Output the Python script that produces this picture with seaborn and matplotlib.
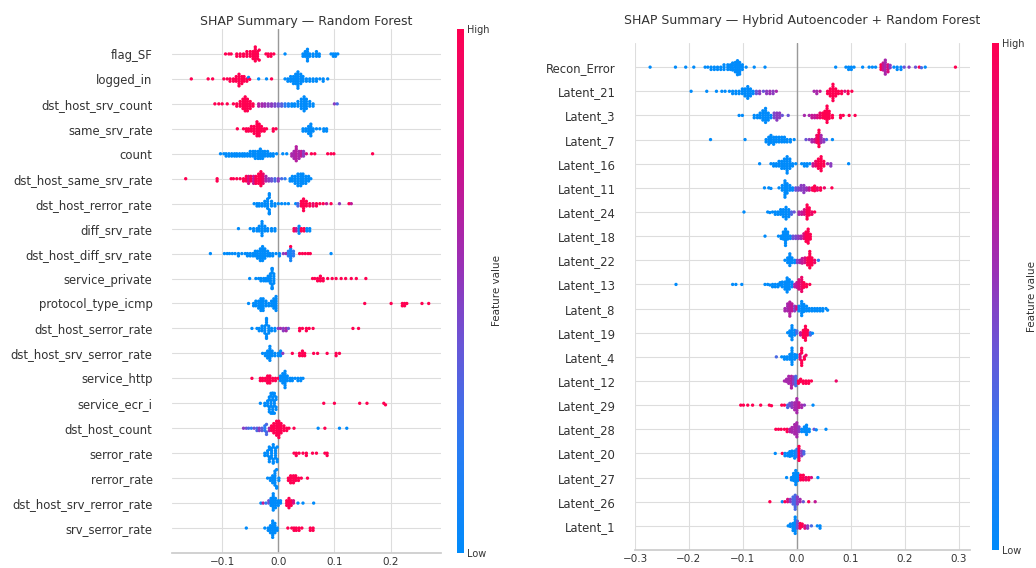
import warnings
warnings.filterwarnings("ignore")
import numpy as np
import pandas as pd
import matplotlib
matplotlib.use("Agg")
import matplotlib.pyplot as plt
import seaborn as sns
from matplotlib.colors import LinearSegmentedColormap, Normalize
from matplotlib.cm import ScalarMappable

# ---------------- data: (shap value, number of samples, feature value 0=low..1=high) ----------------
rf_title = "SHAP Summary \u2014 Random Forest"
rf_features = ["flag_SF", "logged_in", "dst_host_srv_count", "same_srv_rate", "count",
               "dst_host_same_srv_rate", "dst_host_rerror_rate", "diff_srv_rate",
               "dst_host_diff_srv_rate", "service_private", "protocol_type_icmp",
               "dst_host_serror_rate", "dst_host_srv_serror_rate", "service_http",
               "service_ecr_i", "dst_host_count", "serror_rate", "rerror_rate",
               "dst_host_srv_rerror_rate", "srv_serror_rate"]
rf_ticks = [-0.1, 0.0, 0.1, 0.2]

rf_flag_SF = [(-0.094,1,1),(-0.088,1,1),(-0.084,1,1),(-0.074,2,1),(-0.068,2,1),(-0.062,2,1),(-0.056,3,1),(-0.050,3,1),(-0.045,4,1),(-0.041,7,1),(-0.037,4,1),(-0.034,2,1),(-0.022,1,1),(-0.018,2,1),(-0.013,2,1),(-0.008,1,1),(0.012,1,0),(0.044,2,0),(0.048,3,0),(0.052,6,0),(0.056,2,0),(0.062,2,0),(0.068,3,0),(0.073,2,0),(0.094,1,0),(0.098,2,0),(0.102,2,0),(0.106,1,0)]
rf_logged_in = [(-0.155,1,1),(-0.125,1,1),(-0.117,1,1),(-0.097,1,1),(-0.091,1,1),(-0.086,2,1),(-0.080,2,1),(-0.075,3,1),(-0.070,6,1),(-0.065,4,1),(-0.061,3,1),(-0.056,2,1),(-0.053,1,0),(-0.051,1,1),(-0.035,1,0),(-0.021,1,0),(-0.012,1,1),(0.012,1,0),(0.017,2,0),(0.022,3,0),(0.027,4,0),(0.031,5,0),(0.035,8,0),(0.040,5,0),(0.044,3,0),(0.050,2,0),(0.056,2,0),(0.062,2,0),(0.068,2,0),(0.074,1,0),(0.080,2,0),(0.088,1,0)]
rf_dst_host_srv_count = [(-0.113,1,1),(-0.106,1,1),(-0.100,1,1),(-0.091,1,1),(-0.080,1,1),(-0.074,2,1),(-0.068,3,1),(-0.063,5,1),(-0.059,7,1),(-0.055,6,1),(-0.050,4,1),(-0.045,2,1),(-0.035,2,0.65),(-0.029,2,0.6),(-0.024,2,0.55),(-0.018,2,0.5),(-0.012,2,0.5),(-0.006,2,0.45),(0.0,2,0.4),(0.006,2,0.35),(0.012,2,0.2),(0.018,2,0.1),(0.024,2,0),(0.029,2,0),(0.035,3,0),(0.041,5,0),(0.046,7,0),(0.050,5,0),(0.056,3,0),(0.062,2,0),(0.100,1,0.5),(0.105,1,0.3)]
rf_same_srv_rate = [(-0.073,1,1),(-0.062,1,1),(-0.057,2,1),(-0.053,2,1),(-0.048,3,1),(-0.043,4,1),(-0.038,7,1),(-0.034,6,1),(-0.030,3,1),(-0.025,2,1),(-0.021,1,1),(-0.009,2,1),(-0.004,1,1),(0.044,2,0),(0.049,2,0),(0.054,4,0),(0.058,6,0),(0.062,2,0),(0.068,1,0),(0.074,1,0),(0.081,2,0),(0.086,2,0)]
rf_count = [(-0.103,1,0),(-0.097,1,0),(-0.093,2,0),(-0.088,2,0),(-0.083,2,0),(-0.078,2,0),(-0.074,2,0),(-0.069,2,0),(-0.064,2,0),(-0.060,2,0),(-0.055,2,0),(-0.050,3,0),(-0.045,3,0),(-0.041,4,0),(-0.036,4,0),(-0.032,5,0),(-0.028,4,0),(-0.024,3,0),(-0.019,3,0),(-0.014,2,0),(-0.009,2,0),(-0.003,1,0),(0.008,1,0),(0.015,1,0),(0.024,2,0.6),(0.028,4,0.6),(0.032,7,0.65),(0.037,4,0.6),(0.041,3,0.7),(0.045,3,0.5),(0.050,1,0.8),(0.059,1,1),(0.065,1,1),(0.088,1,1),(0.094,1,1),(0.099,1,1),(0.168,1,1)]
rf_dst_host_same_srv_rate = [(-0.165,1,1),(-0.109,2,1),(-0.084,1,1),(-0.080,1,1),(-0.074,1,1),(-0.068,1,1),(-0.062,2,1),(-0.057,3,1),(-0.053,4,0.8),(-0.049,3,1),(-0.044,4,0.7),(-0.040,4,1),(-0.035,5,1),(-0.031,7,1),(-0.027,5,0.9),(-0.022,3,0.6),(-0.017,2,0.5),(-0.012,2,0.4),(-0.006,2,0.3),(0.0,2,0.5),(0.006,1,0.3),(0.012,1,0.2),(0.021,2,0),(0.025,3,0),(0.030,4,0),(0.035,6,0),(0.040,6,0),(0.044,5,0),(0.049,4,0),(0.054,3,0),(0.058,1,0)]
rf_dst_host_rerror_rate = [(-0.043,1,0),(-0.038,2,0),(-0.034,2,0),(-0.029,2,0),(-0.024,3,0),(-0.019,5,0),(-0.016,7,0),(-0.012,3,0),(-0.006,2,0),(0.0,1,0),(0.006,1,0),(0.012,1,0),(0.018,1,0),(0.031,1,0),(0.035,2,0.3),(0.041,3,1),(0.045,6,1),(0.050,3,1),(0.056,2,1),(0.062,2,0.9),(0.068,2,1),(0.074,1,1),(0.080,1,1),(0.086,1,0.7),(0.094,1,1),(0.109,1,0.5),(0.126,1,1),(0.130,1,0.7)]
rf_diff_srv_rate = [(-0.071,1,0),(-0.050,1,0),(-0.044,2,0),(-0.038,2,0),(-0.034,3,0),(-0.029,7,0),(-0.024,3,0),(-0.019,2,0),(-0.012,2,0),(-0.006,2,0),(0.028,2,1),(0.032,2,0.7),(0.037,4,0),(0.041,2,1),(0.046,2,1),(0.051,2,0),(0.056,2,0)]
rf_dst_host_diff_srv_rate = [(-0.121,1,0),(-0.096,1,0),(-0.091,1,0),(-0.087,1,0),(-0.082,1,0),(-0.077,1,0),(-0.071,2,0),(-0.065,1,0),(-0.059,1,0),(-0.055,2,0),(-0.050,2,0),(-0.045,2,0),(-0.041,3,0),(-0.037,4,0),(-0.032,6,0),(-0.028,7,0),(-0.024,5,0),(-0.019,3,0),(-0.015,2,0),(-0.010,2,0),(-0.004,1,0),(0.002,2,0),(0.009,1,0.5),(0.014,1,0.6),(0.018,3,0.2),(0.022,6,0.1),(0.022,1,1),(0.027,3,0.2),(0.038,1,1),(0.043,1,1),(0.048,1,1),(0.053,1,1),(0.057,1,1),(0.094,1,0)]
rf_service_private = [(-0.051,1,0),(-0.040,1,0),(-0.035,1,0),(-0.031,2,0),(-0.026,2,0),(-0.022,2,0),(-0.018,3,0),(-0.014,5,0),(-0.011,8,0),(-0.008,5,0),(0.061,1,1),(0.065,1,1),(0.070,2,1),(0.075,3,1),(0.080,2,1),(0.088,1,1),(0.096,1,1),(0.103,1,1),(0.112,1,1),(0.120,1,1),(0.130,1,1),(0.139,1,1),(0.156,1,1)]
rf_protocol_type_icmp = [(-0.053,1,0),(-0.044,2,0),(-0.040,3,0),(-0.035,4,0),(-0.031,6,0),(-0.027,6,0),(-0.022,3,0),(-0.017,2,0),(-0.012,3,0),(-0.008,5,0),(-0.004,7,0),(0.154,1,1),(0.201,1,1),(0.221,2,1),(0.225,2,1),(0.229,1,1),(0.256,1,1),(0.268,1,1)]
rf_dst_host_serror_rate = [(-0.047,1,0),(-0.038,1,0),(-0.034,2,0),(-0.029,3,0),(-0.024,4,0),(-0.021,7,0),(-0.017,4,0),(-0.012,2,0),(-0.006,2,0),(0.0,1,0.5),(0.004,1,0.6),(0.009,2,0.5),(0.014,2,0.6),(0.018,1,0.4),(0.038,2,1),(0.043,1,1),(0.050,2,1),(0.055,1,1),(0.062,1,1),(0.133,1,1),(0.143,1,1)]
rf_dst_host_srv_serror_rate = [(-0.028,1,0),(-0.023,2,0),(-0.019,4,0),(-0.015,7,0),(-0.011,3,0),(-0.006,2,0),(0.0,2,0),(0.004,3,0),(0.008,1,0.5),(0.025,1,1),(0.038,2,1),(0.043,3,1),(0.047,2,1),(0.063,1,1),(0.070,1,1),(0.087,1,1),(0.103,2,1),(0.109,1,1)]
rf_service_http = [(-0.047,1,1),(-0.032,2,1),(-0.028,2,1),(-0.023,2,1),(-0.019,4,1),(-0.015,4,1),(-0.010,2,1),(-0.005,2,1),(0.0,1,1),(0.004,3,0),(0.008,5,0),(0.012,8,0),(0.016,3,0),(0.021,2,0),(0.025,2,0),(0.030,1,0),(0.035,2,0),(0.040,2,0),(0.044,1,0)]
rf_service_ecr_i = [(-0.032,1,0),(-0.024,2,0),(-0.019,3,0),(-0.016,5,0),(-0.013,6,0),(-0.010,8,0),(-0.007,6,0),(-0.004,4,0),(0.081,1,1),(0.100,1,1),(0.145,1,1),(0.158,1,1),(0.188,1,1),(0.191,1,1)]
rf_dst_host_count = [(-0.062,1,0.5),(-0.057,1,0.4),(-0.053,1,0.3),(-0.048,1,0.2),(-0.043,1,0.4),(-0.038,2,0.3),(-0.034,2,0.5),(-0.029,2,0.35),(-0.024,3,0.2),(-0.021,3,0.3),(-0.016,2,0.6),(-0.012,3,1),(-0.008,5,1),(-0.003,7,1),(0.001,8,1),(0.005,5,1),(0.010,3,1),(0.015,2,1),(0.019,1,1),(0.028,1,1),(0.071,1,0),(0.083,1,1),(0.109,1,0),(0.122,1,0)]
rf_serror_rate = [(-0.024,2,0),(-0.019,3,0),(-0.016,5,0),(-0.012,5,0),(-0.009,5,0),(-0.005,5,0),(-0.002,3,0),(0.028,1,1),(0.032,2,1),(0.037,1,1),(0.044,1,1),(0.050,2,1),(0.061,1,1),(0.068,1,1),(0.083,1,1),(0.087,2,1)]
rf_rerror_rate = [(-0.019,1,0),(-0.014,2,0),(-0.010,4,0),(-0.006,7,0),(-0.003,3,0),(0.001,2,0),(0.018,2,1),(0.022,4,1),(0.027,4,1),(0.031,3,1),(0.036,2,1),(0.041,1,1),(0.052,1,1)]
rf_dst_host_srv_rerror_rate = [(-0.031,1,0),(-0.027,1,0.7),(-0.022,1,0.2),(-0.017,2,0.4),(-0.013,4,0),(-0.009,8,0),(-0.005,5,0),(0.0,3,0),(0.004,2,0),(0.015,3,1),(0.019,5,1),(0.023,3,1),(0.027,2,0.8),(0.035,1,0),(0.044,1,0),(0.063,1,0)]
rf_srv_serror_rate = [(-0.057,1,0),(-0.024,1,0),(-0.018,2,0),(-0.014,4,0),(-0.010,8,0),(-0.006,5,0),(-0.002,2,0),(0.017,1,1),(0.024,1,1),(0.028,2,1),(0.032,2,1),(0.037,2,1),(0.042,1,1),(0.057,2,1),(0.062,2,1)]

ae_title = "SHAP Summary \u2014 Hybrid Autoencoder + Random Forest"
ae_features = ["Recon_Error", "Latent_21", "Latent_3", "Latent_7", "Latent_16", "Latent_11",
               "Latent_24", "Latent_18", "Latent_22", "Latent_13", "Latent_8", "Latent_19",
               "Latent_4", "Latent_12", "Latent_29", "Latent_28", "Latent_20", "Latent_27",
               "Latent_26", "Latent_1"]
ae_ticks = [-0.3, -0.2, -0.1, 0.0, 0.1, 0.2, 0.3]

ae_Recon_Error = [(-0.272,1,0),(-0.225,1,0),(-0.206,1,0),(-0.191,1,0),(-0.170,1,0),(-0.165,1,0),(-0.159,2,0),(-0.153,2,0),(-0.147,2,0),(-0.141,2,0),(-0.135,3,0),(-0.128,3,0),(-0.123,3,0),(-0.119,4,0),(-0.114,5,0),(-0.110,7,0),(-0.106,6,0),(-0.101,3,0),(-0.094,1,0),(-0.079,1,0),(-0.059,1,0),(0.072,1,0),(0.091,1,0),(0.096,2,0),(0.101,2,0),(0.106,1,0),(0.122,1,0),(0.134,1,0),(0.140,1,0),(0.146,1,0),(0.156,3,1),(0.160,4,0.7),(0.164,7,0.6),(0.169,4,0.8),(0.173,2,0.5),(0.180,1,0),(0.186,2,0),(0.193,2,0),(0.199,1,0.4),(0.208,1,0.5),(0.220,1,0.4),(0.227,1,1),(0.231,1,0.3),(0.238,1,0),(0.294,1,1)]
ae_Latent_21 = [(-0.196,1,0),(-0.167,1,0),(-0.149,1,0),(-0.139,1,0),(-0.133,1,0),(-0.125,1,0),(-0.119,2,0),(-0.113,2,0),(-0.107,2,0),(-0.101,3,0),(-0.096,4,0),(-0.091,6,0),(-0.086,4,0),(-0.081,2,0),(-0.075,2,0.4),(-0.069,2,0.5),(-0.062,1,0.4),(-0.056,2,0.5),(-0.050,2,0.55),(-0.044,2,0.5),(-0.038,1,0.6),(0.032,1,0.6),(0.037,2,0.6),(0.043,1,0.7),(0.057,2,1),(0.062,4,1),(0.067,8,1),(0.072,4,1),(0.077,2,1),(0.083,2,1),(0.089,1,0.8),(0.095,2,1),(0.102,1,1)]
ae_Latent_3 = [(-0.107,1,0),(-0.101,1,0),(-0.079,2,0),(-0.073,2,0),(-0.068,3,0),(-0.063,5,0),(-0.058,7,0),(-0.053,4,0),(-0.048,2,0),(-0.042,3,0.45),(-0.037,4,0.5),(-0.032,3,0.5),(-0.027,1,0.4),(-0.016,1,0.4),(0.014,1,0.6),(0.023,1,0.6),(0.028,2,0.7),(0.033,2,0.7),(0.038,2,0.8),(0.043,3,0.9),(0.048,3,1),(0.052,4,1),(0.056,8,1),(0.060,4,1),(0.066,2,1),(0.081,2,1),(0.086,1,1),(0.097,1,1),(0.108,1,1)]
ae_Latent_7 = [(-0.160,1,0),(-0.096,1,0),(-0.057,2,0),(-0.052,4,0),(-0.048,4,0),(-0.043,4,0),(-0.038,3,0),(-0.033,3,0),(-0.028,3,0),(-0.023,3,0),(-0.018,2,0),(-0.012,2,0),(-0.005,1,0),(0.017,1,0.4),(0.023,1,0.5),(0.028,2,0.6),(0.033,2,0.7),(0.037,4,0.9),(0.041,8,1),(0.045,4,0.6),(0.050,2,0.5),(0.055,1,0.3),(0.066,1,0)]
ae_Latent_16 = [(-0.069,1,0),(-0.048,1,0),(-0.043,2,0),(-0.038,2,0),(-0.033,3,0),(-0.028,4,0),(-0.023,5,0),(-0.018,8,0),(-0.013,5,0),(-0.008,2,0),(-0.002,1,0),(0.009,1,0),(0.014,2,0),(0.019,2,0),(0.024,1,0),(0.030,2,0.7),(0.035,3,0.9),(0.040,5,1),(0.045,7,1),(0.050,3,1),(0.057,1,0.6),(0.063,2,0.5),(0.096,1,0)]
ae_Latent_11 = [(-0.060,1,0),(-0.052,1,0),(-0.048,1,0),(-0.033,1,0),(-0.027,3,0),(-0.022,8,0),(-0.018,5,0),(-0.013,3,0),(-0.008,2,0),(-0.002,2,0.4),(0.003,2,0.45),(0.008,3,0.5),(0.013,4,0.5),(0.018,2,0.55),(0.023,2,0.7),(0.029,2,1),(0.033,3,1),(0.038,2,0.9),(0.044,2,1),(0.051,1,0.9),(0.065,1,1)]
ae_Latent_24 = [(-0.098,1,0),(-0.054,1,0),(-0.050,1,0),(-0.045,1,0),(-0.040,2,0),(-0.035,2,0),(-0.030,3,0),(-0.025,4,0),(-0.020,6,0),(-0.015,4,0),(-0.010,2,0.3),(-0.005,1,0.4),(0.004,2,0.6),(0.009,2,0.7),(0.014,3,0.8),(0.019,7,1),(0.023,4,1),(0.028,2,0.9),(0.033,1,1)]
ae_Latent_18 = [(-0.059,1,0),(-0.034,1,0),(-0.029,2,0),(-0.025,4,0),(-0.021,8,0),(-0.017,4,0),(-0.012,2,0),(-0.007,2,0.4),(-0.002,2,0.45),(0.003,2,0.5),(0.008,2,0.6),(0.013,3,0.8),(0.017,5,1),(0.021,7,1),(0.025,3,1)]
ae_Latent_22 = [(-0.022,1,0),(-0.017,3,0),(-0.013,6,0),(-0.009,3,0),(-0.004,2,0),(0.001,2,0.5),(0.006,2,0.6),(0.010,3,0.7),(0.015,3,0.8),(0.020,4,1),(0.024,8,1),(0.028,4,1),(0.033,2,0.9),(0.040,1,0.2)]
ae_Latent_13 = [(-0.224,1,0),(-0.119,1,0),(-0.113,1,0),(-0.102,1,0),(-0.059,1,0),(-0.054,1,0),(-0.050,1,0),(-0.045,2,0),(-0.040,2,0),(-0.035,2,0),(-0.031,2,0),(-0.027,3,0),(-0.022,4,0),(-0.018,7,0),(-0.014,5,0),(-0.009,3,0),(-0.004,2,0.6),(0.0,3,0.7),(0.004,5,0.8),(0.009,7,0.9),(0.013,3,1),(0.018,2,1),(0.024,1,1)]
ae_Latent_8 = [(-0.022,2,0.6),(-0.017,4,0.6),(-0.013,7,0.65),(-0.009,4,0.7),(-0.004,3,0.5),(0.0,2,0.8),(0.004,3,0),(0.009,7,0),(0.013,4,0),(0.018,3,0),(0.023,2,0),(0.028,2,0),(0.033,2,0),(0.038,2,0),(0.043,2,0),(0.048,2,0),(0.054,1,0),(0.057,1,0)]
ae_Latent_19 = [(-0.017,1,0),(-0.013,3,0),(-0.009,7,0),(-0.004,3,0),(0.0,2,0.3),(0.007,2,0.7),(0.012,4,1),(0.016,7,1),(0.020,3,1),(0.025,2,0.3),(0.029,1,0)]
ae_Latent_4 = [(-0.038,1,0.3),(-0.028,1,0),(-0.023,2,0),(-0.018,2,0),(-0.013,3,0),(-0.009,8,0),(-0.004,3,0),(0.0,2,0),(0.006,3,0.8),(0.009,6,1),(0.014,2,1),(0.017,1,0.9)]
ae_Latent_12 = [(-0.023,1,0.6),(-0.019,2,0.6),(-0.015,4,0.6),(-0.010,6,0.65),(-0.006,4,0.5),(-0.002,5,0.3),(0.003,2,1),(0.007,2,1),(0.012,2,1),(0.017,2,1),(0.022,2,1),(0.027,1,1),(0.073,1,0.9)]
ae_Latent_29 = [(-0.104,1,1),(-0.099,1,1),(-0.091,1,1),(-0.082,1,1),(-0.067,1,1),(-0.051,1,1),(-0.047,1,1),(-0.028,1,1),(-0.023,1,1),(-0.017,2,0.3),(-0.013,2,0.4),(-0.009,3,0.5),(-0.004,4,0.6),(0.0,7,0.6),(0.004,3,0.7),(0.009,2,0.6),(0.014,1,0.5),(0.030,1,0)]
ae_Latent_28 = [(-0.039,1,1),(-0.034,1,1),(-0.029,1,1),(-0.023,1,1),(-0.018,2,1),(-0.013,2,0.7),(-0.009,3,0.6),(-0.004,5,0.6),(0.0,7,0.6),(0.004,3,0.5),(0.009,2,0),(0.014,3,0),(0.018,5,0),(0.023,2,0),(0.032,1,0.4),(0.036,1,0),(0.054,1,0)]
ae_Latent_20 = [(-0.040,1,0),(-0.027,1,1),(-0.022,2,0),(-0.017,2,0),(-0.013,3,0),(-0.009,3,0),(-0.004,4,0),(0.0,4,0.2),(0.004,7,1),(0.009,3,0.5),(0.013,2,0.3)]
ae_Latent_27 = [(-0.019,1,0),(-0.010,2,0),(-0.006,4,0),(-0.002,7,0),(0.002,4,0),(0.007,3,1),(0.012,3,1),(0.017,2,0.9),(0.022,2,1),(0.027,1,0.8),(0.039,1,0)]
ae_Latent_26 = [(-0.050,1,1),(-0.027,1,0),(-0.022,1,1),(-0.017,2,0.8),(-0.012,2,0.5),(-0.007,4,0.3),(-0.003,7,0.3),(0.001,4,0.5),(0.006,2,0.6),(0.012,1,0.4),(0.022,1,1),(0.034,1,0.7)]
ae_Latent_1 = [(-0.016,1,0),(-0.012,2,0),(-0.007,4,0),(-0.003,8,0),(0.001,4,0.4),(0.006,3,1),(0.010,2,1),(0.015,2,0.8),(0.020,2,0.5),(0.027,1,0.3),(0.038,1,0),(0.043,2,0)]

rf_points = [rf_flag_SF, rf_logged_in, rf_dst_host_srv_count, rf_same_srv_rate, rf_count,
             rf_dst_host_same_srv_rate, rf_dst_host_rerror_rate, rf_diff_srv_rate,
             rf_dst_host_diff_srv_rate, rf_service_private, rf_protocol_type_icmp,
             rf_dst_host_serror_rate, rf_dst_host_srv_serror_rate, rf_service_http,
             rf_service_ecr_i, rf_dst_host_count, rf_serror_rate, rf_rerror_rate,
             rf_dst_host_srv_rerror_rate, rf_srv_serror_rate]
ae_points = [ae_Recon_Error, ae_Latent_21, ae_Latent_3, ae_Latent_7, ae_Latent_16, ae_Latent_11,
             ae_Latent_24, ae_Latent_18, ae_Latent_22, ae_Latent_13, ae_Latent_8, ae_Latent_19,
             ae_Latent_4, ae_Latent_12, ae_Latent_29, ae_Latent_28, ae_Latent_20, ae_Latent_27,
             ae_Latent_26, ae_Latent_1]

# ---------------- style ----------------
sns.set_theme(style="whitegrid")
plt.rcParams["font.family"] = ["DejaVu Sans"]
TXT = "#333333"
cmap = LinearSegmentedColormap.from_list(
    "shap_red_blue",
    [(0.0, "#008bfb"), (0.2, "#2a7cf3"), (0.4, "#6a55d6"), (0.55, "#9a30b6"),
     (0.75, "#cf0f8a"), (1.0, "#ff0051")])

LAYOUT_SIZE = 1.6    # marker size used by the swarm layout (tight packing, as in SHAP)
DOT_SIZE = 2.4       # marker size drawn (dots overlap slightly, as in SHAP)

W, H = 1036, 568
fig = plt.figure(figsize=(W / 100, H / 100), dpi=100)


def frac(x0, y0, x1, y1):
    return [x0 / W, 1 - y1 / H, (x1 - x0) / W, (y1 - y0) / H]


def beeswarm(ax, features, point_lists, xlim, ticks, title, title_pad):
    rows = []
    for feat, pts in zip(features, point_lists):
        for x, n, c in pts:
            rows.extend([(feat, x, c)] * n)
    df = pd.DataFrame(rows, columns=["feature", "shap", "fval"])
    ax.axvline(0, color="#999999", lw=1.0, zorder=1)
    sns.swarmplot(data=df, x="shap", y="feature", hue="fval", order=features,
                  palette=cmap, hue_norm=(0, 1), size=LAYOUT_SIZE, linewidth=0,
                  legend=False, orient="h", ax=ax, zorder=3)
    ax.set_xlim(*xlim)
    ax.set_ylim(len(features), -1)
    ax.set_xticks(ticks)
    ax.grid(True, axis="both", color="#dddddd", lw=0.8)
    ax.set_axisbelow(True)
    ax.set_xlabel("")
    ax.set_ylabel("")
    for s in ["left", "top", "right"]:
        ax.spines[s].set_visible(False)
    ax.spines["bottom"].set_color("#cccccc")
    ax.tick_params(axis="y", length=0, pad=14, labelsize=8.4, labelcolor=TXT)
    ax.tick_params(axis="x", length=0, pad=3, labelsize=7.5, labelcolor=TXT)
    ax.set_title(title, fontsize=9, color=TXT, pad=title_pad)


def colorbar(rect):
    cax = fig.add_axes(rect)
    cb = fig.colorbar(ScalarMappable(norm=Normalize(0, 1), cmap=cmap), cax=cax, ticks=[0, 1])
    cb.set_ticklabels(["Low", "High"])
    cb.ax.tick_params(length=0, labelsize=7, pad=2, labelcolor=TXT)
    cb.outline.set_visible(False)
    cb.set_label("Feature value", size=7.5, color=TXT, labelpad=2)


ax1 = fig.add_axes(frac(172, 29, 441, 553))
beeswarm(ax1, rf_features, rf_points, (-0.1894, 0.2899), rf_ticks, rf_title, 3)
colorbar(frac(457, 29, 464, 553))

ax2 = fig.add_axes(frac(635, 43, 970, 550))
beeswarm(ax2, ae_features, ae_points, (-0.2988, 0.321), ae_ticks, ae_title, 14)
colorbar(frac(992, 43, 999, 550))

# let seaborn compute the swarm layout once, then freeze it and draw slightly larger dots
fig.canvas.draw()
for ax in (ax1, ax2):
    for coll in ax.collections:
        if "draw" in coll.__dict__:
            del coll.__dict__["draw"]
            coll.set_sizes([DOT_SIZE ** 2])

fig.savefig("out.png", dpi=100)
